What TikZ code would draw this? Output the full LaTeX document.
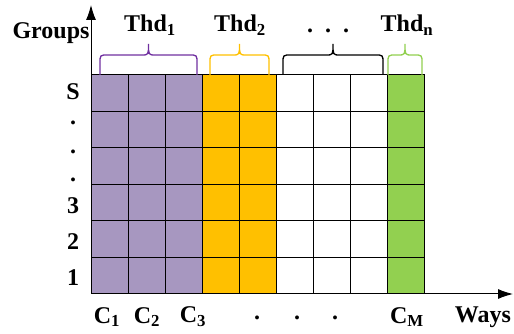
\documentclass[tikz,border=0pt]{standalone}
\usepackage{fontspec}
\setmainfont{Liberation Serif}
\usetikzlibrary{arrows.meta, positioning}
\definecolor{WayPurple}{HTML}{A797C0}
\definecolor{BracePurple}{HTML}{7030A0}
\definecolor{WayOrange}{HTML}{FFC000}
\definecolor{WayGreen}{HTML}{92D050}
\tikzset{
  % Box styles
  cell/.style={rectangle, draw=black, line width=1pt, minimum width=37.1pt, minimum height=36.5pt, inner sep=0pt, outer sep=0pt},
  % Text styles
  lbl/.style={font=\fontsize{24}{26}\selectfont\bfseries, inner sep=0pt},
  % Line styles
  axis/.style={-{Latex[length=15pt, width=10pt]}, line width=1pt},
  brace/.style={line width=1.3pt}
}
% curly brace over a group of ways: colour, left x, right x
\newcommand{\groupbrace}[3]{%
  \pgfmathsetmacro{\bmid}{(#2+#3)/2}
  \draw[brace, #1] (#2,259) -- (#2,271) .. controls (#2,279) .. (#2+8,279) -- (\bmid-7,279)
    .. controls (\bmid,279) .. (\bmid,290) .. controls (\bmid,279) .. (\bmid+7,279)
    -- (#3-8,279) .. controls (#3,279) .. (#3,271) -- (#3,259);
}

\begin{document}
\begin{tikzpicture}[x=1pt, y=1pt]
  \useasboundingbox (0,0) rectangle (514,334);

  % Cache ways (columns) x groups (rows)
  \foreach \col/\shade in {1/WayPurple,2/WayPurple,3/WayPurple,4/WayOrange,5/WayOrange,6/white,7/white,8/white,9/WayGreen}{
    \foreach \row in {1,...,6}{
      \node[cell, fill=\shade, anchor=south west] (c-\col-\row) at ({91+(\col-1)*37.1},{40+(\row-1)*36.5}) {};
    }
  }

  % Axes
  \coordinate (O) at (91,40);
  \coordinate (ytop) at (91,329);
  \coordinate (xend) at (513,40);
  \draw[axis] (O) -- (ytop);
  \draw[axis] (O) -- (xend);
  \node[lbl] (groups) at (51,301) {Groups};
  \node[lbl] (ways) at (483,17) {Ways};

  % Thread braces
  \groupbrace{BracePurple}{100}{197}
  \groupbrace{WayOrange}{210}{269}
  \groupbrace{black}{283}{383}
  \groupbrace{WayGreen}{388}{422}
  \node[lbl] (thd1) at (150,309) {Thd\textsubscript{1}};
  \node[lbl] (thd2) at (240,309) {Thd\textsubscript{2}};
  \node[lbl] (thdd) at (328,303) {.\ \ .\ \ .};
  \node[lbl] (thdn) at (407,309) {Thd\textsubscript{n}};

  % Group labels
  \node[lbl] (gS) at (73,242) {S};
  \node[lbl] (gd1) at (73,211) {.};
  \node[lbl] (gd2) at (73,182) {.};
  \node[lbl] (gd3) at (73,154) {.};
  \node[lbl] (g3) at (73,128) {3};
  \node[lbl] (g2) at (73,92) {2};
  \node[lbl] (g1) at (73,56) {1};

  % Way labels
  \node[lbl] (w1) at (107,17) {C\textsubscript{1}};
  \node[lbl] (w2) at (147,17) {C\textsubscript{2}};
  \node[lbl] (w3) at (193,17) {C\textsubscript{3}};
  \node[lbl] (wd1) at (257,16) {.};
  \node[lbl] (wd2) at (297,16) {.};
  \node[lbl] (wd3) at (335,16) {.};
  \node[lbl] (wM) at (407,17) {C\textsubscript{M}};
\end{tikzpicture}
\end{document}
